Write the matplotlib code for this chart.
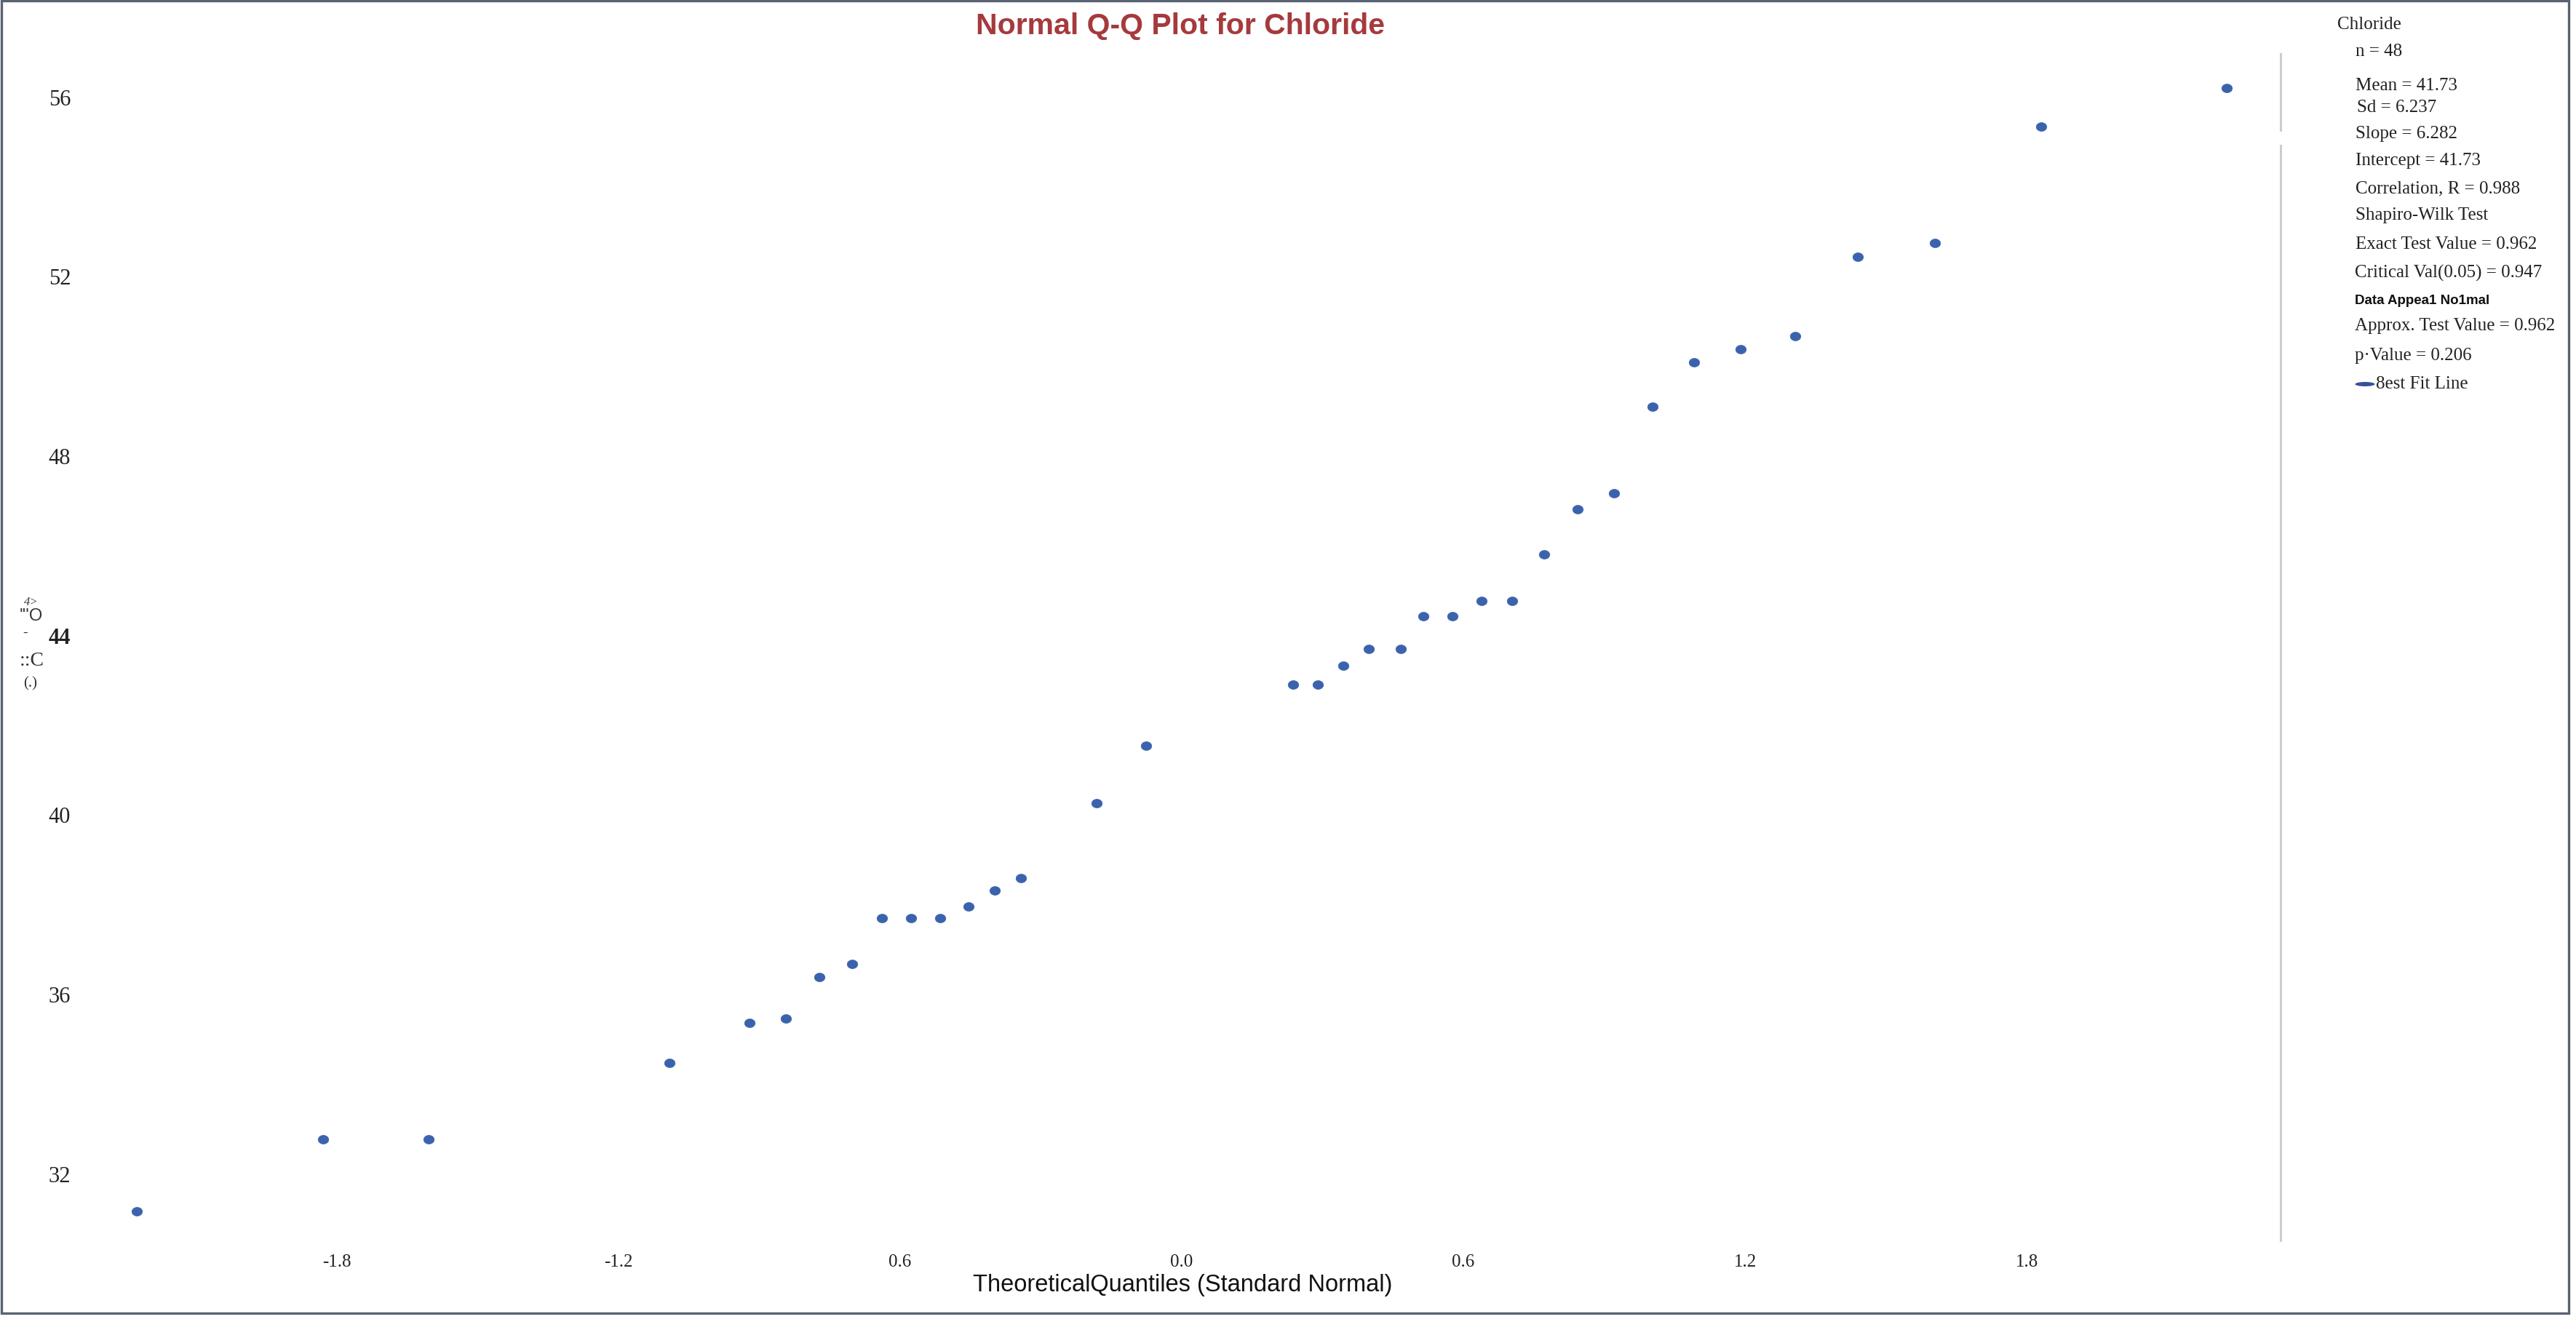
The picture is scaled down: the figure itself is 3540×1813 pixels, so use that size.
import matplotlib
matplotlib.use("Agg")
import matplotlib.pyplot as plt
from matplotlib.path import Path
from matplotlib.patches import Rectangle, Ellipse
from matplotlib.lines import Line2D
import numpy as np

# ---------------- data ----------------
theoretical_q = [-2.227, -1.830, -1.604, -1.091, -0.921, -0.844, -0.772, -0.703,
                 -0.639, -0.577, -0.514, -0.455, -0.398, -0.343, -0.182, -0.076,
                 0.237, 0.290, 0.344, 0.399, 0.466, 0.515, 0.577, 0.639,
                 0.704, 0.772, 0.844, 0.921, 1.003, 1.092, 1.190, 1.307,
                 1.440, 1.605, 1.831, 2.226]
chloride = [31.16, 32.78, 32.78, 34.47, 35.37, 35.46, 36.39, 36.68,
            37.70, 37.70, 37.70, 37.96, 38.32, 38.60, 40.26, 41.55,
            42.91, 42.91, 43.33, 43.70, 43.70, 44.43, 44.43, 44.78,
            44.78, 45.81, 46.81, 47.18, 49.10, 50.10, 50.38, 50.67,
            52.44, 52.75, 55.35, 56.21]
x_ticks = [-1.8, -1.2, -0.6, 0.0, 0.6, 1.2, 1.8]
x_tick_labels = ["-1.8", "-1.2", "0.6", "0.0", "0.6", "1.2", "1.8"]
y_ticks = [32, 36, 40, 44, 48, 52, 56]
y_tick_labels = ["32", "36", "40", "44", "48", "52", "56"]
title = "Normal Q-Q Plot for Chloride"
x_label = "TheoreticalQuantiles (Standard Normal)"
stats_header = "Chloride"
stats_lines = ["n = 48", "Mean = 41.73", "Sd = 6.237", "Slope = 6.282",
               "Intercept = 41.73", "Correlation, R = 0.988", "Shapiro-Wilk Test",
               "Exact Test Value = 0.962", "Critical Val(0.05) = 0.947",
               "Data Appea1 No1mal", "Approx. Test Value = 0.962",
               "p·Value = 0.206", "8est Fit Line"]

# ---------------- figure ----------------
W, H = 3540, 1813
fig = plt.figure(figsize=(W / 100, H / 100), dpi=100)
fig.patch.set_facecolor("white")

def fx(px):
    return px / W

def fy(py):
    return 1 - py / H

ax_l, ax_r, ax_t, ax_b = 100, 3134, 74, 1705
ax = fig.add_axes([fx(ax_l), fy(ax_b), fx(ax_r) - fx(ax_l), fy(ax_t) - fy(ax_b)])
ax.set_facecolor("white")
ax.set_xlim(-2.3628, 2.3411)
ax.set_ylim(30.518, 56.969)
for s in ax.spines.values():
    s.set_visible(False)

# elliptical marker
circ = Path.unit_circle()
ell = Path(circ.vertices * np.array([1.0, 0.82]), circ.codes)
ax.plot(theoretical_q, chloride, linestyle="none", marker=ell, markersize=10.5,
        markerfacecolor="#3B63AD", markeredgecolor="#3B63AD", markeredgewidth=0.5)

serif = ["Liberation Serif", "DejaVu Serif"]
ax.set_xticks(x_ticks)
ax.set_xticklabels(x_tick_labels, fontsize=18, family=serif, color="#222222")
ax.set_yticks(y_ticks)
ax.set_yticklabels(y_tick_labels, fontsize=22, family=serif, color="#222222")
for lab in ax.get_yticklabels():
    if lab.get_text() == "44":
        lab.set_fontweight("bold")
ax.tick_params(axis="both", length=0)
ax.tick_params(axis="x", pad=14)
ax.tick_params(axis="y", pad=2)

# right divider line with a gap
fig.add_artist(Line2D([fx(3134), fx(3134)], [fy(74), fy(179)], color="#c9cdd3", lw=2.2))
fig.add_artist(Line2D([fx(3134), fx(3134)], [fy(200), fy(1705)], color="#c9cdd3", lw=2.2))

# title and axis label
fig.text(fx(1622), fy(36), title, ha="center", va="center", fontsize=29.5,
         fontweight="bold", color="#A53A3D",
         family=["Liberation Sans Narrow", "Liberation Sans", "DejaVu Sans"])
fig.text(fx(1625), fy(1767), x_label, ha="center", va="center", fontsize=23.5,
         color="#111111", family=["Liberation Sans", "DejaVu Sans"])

# garbled y-axis label fragments
fig.text(fx(43), fy(828), "4>", ha="center", va="center", fontsize=12, style="italic",
         family=serif, color="#333333")
fig.text(fx(43), fy(847), "'''O", ha="center", va="center", fontsize=17,
         family=["Liberation Sans", "DejaVu Sans"], color="#333333")
fig.text(fx(35), fy(870), "-", ha="center", va="center", fontsize=14,
         family=serif, color="#333333")
fig.text(fx(44), fy(908), "::C", ha="center", va="center", fontsize=20,
         family=serif, color="#333333")
fig.text(fx(42), fy(940), "(.)", ha="center", va="center", fontsize=15,
         family=serif, color="#333333")

# stats panel
fig.text(fx(3212), fy(34), stats_header, ha="left", va="center", fontsize=18,
         family=serif, color="#222222")
line_y = [71, 118, 148, 184, 221, 259, 296, 336, 375, 414, 448, 489, 528]
line_x = [3237, 3237, 3239, 3237, 3237, 3237, 3237, 3237, 3236, 3236, 3236, 3236, 3265]
for txt, yy, xx in zip(stats_lines, line_y, line_x):
    if txt.startswith("Data"):
        fig.text(fx(xx), fy(yy), txt, ha="left", va="center", fontsize=13.5,
                 fontweight="bold", family=["Liberation Sans", "DejaVu Sans"],
                 color="#111111")
    else:
        fig.text(fx(xx), fy(yy), txt, ha="left", va="center", fontsize=18,
                 family=serif, color="#222222")
fig.add_artist(Ellipse((fx(3250), fy(528)), fx(27), 6 / H, transform=fig.transFigure,
                       facecolor="#3A4F9A", edgecolor="none"))

# outer frame
fig.add_artist(Rectangle((fx(2), fy(1805)), fx(3530) - fx(2), fy(1) - fy(1805),
                         transform=fig.transFigure, fill=False,
                         edgecolor="#596273", lw=2.4))

fig.savefig("out.png", dpi=100, facecolor="white")
